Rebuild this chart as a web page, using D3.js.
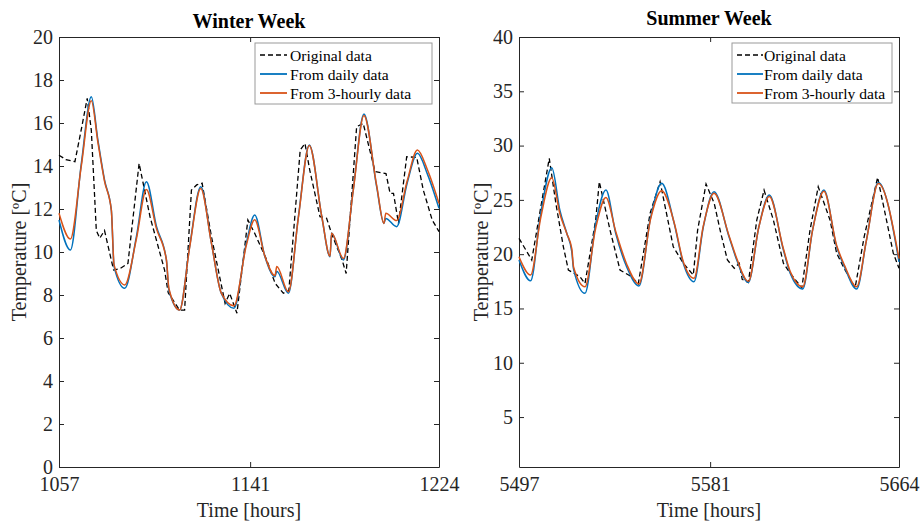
<!DOCTYPE html>
<html><head><meta charset="utf-8">
<script src="https://cdn.jsdelivr.net/npm/d3@7"></script>
<style>body{margin:0;background:#fff}svg{display:block}</style>
</head><body>
<svg id="c" width="922" height="522"></svg>
<script>
// ---------- DATA ----------
const seriesNames = ["Original data", "From daily data", "From 3-hourly data"];
const seriesColors = ["#000000", "#0072BD", "#D95319"];

// Winter week
const winterXTicks = [1057, 1141, 1224];
const winterYTicks = [0, 2, 4, 6, 8, 10, 12, 14, 16, 18, 20];
const winterOrigHours = [1057,1060,1064,1066.8,1069.4,1071.2,1073.4,1074.9,1077,1079.3,1081,1084,1087.3,1092.2,1097,1103.4,1105,1110,1112.2,1115.2,1117.5,1119.9,1124,1130,1132,1135.2,1140,1143,1148.3,1152,1155.6,1158,1163,1165.1,1167.2,1171.7,1174.6,1177,1181.4,1183.2,1187.8,1190.7,1195.9,1200.7,1202.5,1204,1206.2,1209.8,1214.2,1217.1,1221,1224];
const winterOrigTemp  = [14.5,14.3,14.2,15.7,17.15,15.67,11.0,10.64,11.0,9.94,9.16,9.24,9.47,14.12,11.64,9.16,8.1,7.3,7.3,12.88,13.12,13.2,10.71,7.61,8.08,7.15,11.49,10.87,9.63,8.54,8.08,8.2,14.74,15.05,13.81,11.64,11.57,10.8,9.63,9.0,15.83,15.98,13.74,13.65,12.73,12.73,11.33,14.43,14.4,12.88,11.49,10.95];
const winterModelHours = [1057,1062,1066.8,1071.2,1074.1,1077,1080,1081.2,1085.9,1091,1095.4,1099.8,1104.2,1105.3,1110,1114.4,1119.3,1124,1128.3,1133.9,1139.3,1143,1147.5,1151.9,1152.7,1157.8,1162.2,1167,1172.5,1176.1,1176.8,1182,1186.3,1191,1196.6,1199.8,1200.6,1205.4,1210,1214.5,1219,1224];
const winterDailyTemp  = [11.49,10.09,14.1,17.22,15.2,13.35,11.95,9.32,8.31,10.7,13.27,11.2,9.63,8.23,7.3,10.25,13.04,10.4,8.08,7.38,10.4,11.72,9.78,8.85,9.1,8.08,11.64,14.98,11.64,9.78,10.87,9.63,12.88,16.42,13.04,11.33,11.56,11.18,13.2,14.59,13.6,12.03];
const winter3hTemp     = [11.8,10.6,14.0,17.04,15.1,13.3,11.95,9.4,8.47,10.6,12.91,11.1,9.63,8.3,7.3,10.2,12.95,10.4,8.1,7.5,10.3,11.5,9.8,8.9,9.32,8.15,11.6,14.95,11.64,9.8,10.87,9.7,12.85,16.35,13.1,11.33,11.8,11.46,13.3,14.74,13.8,12.26];

// Summer week
const summerXTicks = [5497, 5581, 5664];
const summerYTicks = [5, 10, 15, 20, 25, 30, 35, 40];
const summerOrigHours = [5497,5502.6,5506.3,5510.3,5513.2,5516.5,5518.7,5523.8,5526,5530.7,5532.3,5537,5541.4,5546.5,5549.4,5554.6,5559,5564.8,5569.2,5573.6,5575.5,5579.2,5582.8,5585.7,5588.6,5591.6,5593.8,5595.1,5597.8,5601.5,5604.7,5608.8,5613.2,5616.2,5621.3,5624.9,5628.5,5633.7,5636.6,5639.5,5644.7,5648.7,5654.6,5658.5,5661.5,5664];
const summerOrigTemp  = [21.46,19.46,24.0,28.83,24.68,20.68,18.54,17.92,17.3,23.14,26.67,22.22,18.54,17.92,17.25,23.76,26.67,20.68,19.16,18.08,22.22,26.46,24.68,21.92,19.46,18.7,19.16,17.68,17.4,23.14,25.9,23.14,19.16,18.24,16.9,22.22,26.21,23.14,20.08,18.85,16.9,21.61,27.07,23.14,20.08,18.7];
const summerModelHours = [5497,5502.1,5506.5,5511.4,5515,5518,5520.2,5521,5526,5530.7,5535.2,5539.5,5544.3,5549.7,5554.9,5559.7,5565.2,5569.2,5573.9,5578,5582.7,5589.3,5592.7,5597.8,5602.4,5607,5613.2,5616.2,5621.7,5626,5631,5636.6,5640,5645.4,5649.7,5654.9,5664];
const summerDailyTemp  = [19.46,17.55,23.7,27.96,24.0,21.92,20.23,18.6,16.39,22.8,25.9,21.92,18.84,17.07,23.45,26.52,22.84,19.16,17.46,22.5,25.75,21.61,19.46,17.4,22.5,25.45,20.38,18.24,16.79,22.2,25.9,20.68,18.85,16.79,21.3,26.61,19.3];
const summer3hTemp     = [19.77,18.08,23.3,27.04,23.7,21.9,20.5,18.8,17.0,22.4,25.23,22.1,19.1,17.25,23.3,25.84,22.9,19.3,17.78,22.6,25.6,21.7,19.6,17.5,22.5,25.3,20.5,18.4,17.0,22.2,25.8,20.8,19.0,17.0,21.3,26.5,19.6];

// ---------- DRAW ----------
const svg = d3.select("#c");
const FONT = "'Liberation Serif','Times New Roman',serif";
const AX = "#262626";

function panel(cfg) {
  const {x0, x1, y0, y1, xDom, yDom, xTicks, yTicks, title, titleY, legend} = cfg;
  const x = d3.scaleLinear().domain(xDom).range([x0, x1]);
  const y = d3.scaleLinear().domain(yDom).range([y1, y0]);
  const g = svg.append("g");

  const styleAxis = sel => {
    sel.selectAll("path.domain").attr("stroke", AX).attr("stroke-width", 1);
    sel.selectAll(".tick line").attr("stroke", AX).attr("stroke-width", 1);
    sel.selectAll("text").attr("font-family", FONT).attr("font-size", 20).attr("fill", AX);
  };

  g.append("g").attr("transform", `translate(0,${y1})`)
    .call(d3.axisBottom(x).tickValues(xTicks).tickSizeInner(-5).tickSizeOuter(0).tickPadding(10).tickFormat(d3.format("d")))
    .call(styleAxis);
  g.append("g").attr("transform", `translate(0,${y0})`)
    .call(d3.axisTop(x).tickValues(xTicks).tickSizeInner(-5).tickSizeOuter(0).tickFormat(""))
    .call(styleAxis);
  g.append("g").attr("transform", `translate(${x0},0)`)
    .call(d3.axisLeft(y).tickValues(yTicks).tickSizeInner(-5).tickSizeOuter(0).tickPadding(6).tickFormat(d3.format("d")))
    .call(styleAxis);
  g.append("g").attr("transform", `translate(${x1},0)`)
    .call(d3.axisRight(y).tickValues(yTicks).tickSizeInner(-5).tickSizeOuter(0).tickFormat(""))
    .call(styleAxis);

  const lineLin = d3.line().x(d => x(d[0])).y(d => y(d[1])).curve(d3.curveLinear);
  const lineSm = d3.line().x(d => x(d[0])).y(d => y(d[1])).curve(d3.curveMonotoneX);

  g.append("path").datum(d3.zip(cfg.origH, cfg.origT))
    .attr("d", lineLin).attr("fill", "none").attr("stroke", seriesColors[0])
    .attr("stroke-width", 1.3).attr("stroke-dasharray", "5,3");
  g.append("path").datum(d3.zip(cfg.modH, cfg.dailyT))
    .attr("d", lineSm).attr("fill", "none").attr("stroke", seriesColors[1]).attr("stroke-width", 1.5);
  g.append("path").datum(d3.zip(cfg.modH, cfg.threeT))
    .attr("d", lineSm).attr("fill", "none").attr("stroke", seriesColors[2]).attr("stroke-width", 1.5);

  // title
  g.append("text").attr("x", (x0 + x1) / 2).attr("y", titleY).attr("text-anchor", "middle")
    .attr("font-family", FONT).attr("font-size", 20).attr("font-weight", "bold").attr("fill", "#000").text(title);
  // x label
  g.append("text").attr("x", (x0 + x1) / 2).attr("y", 517).attr("text-anchor", "middle")
    .attr("font-family", FONT).attr("font-size", 20).attr("fill", AX).text("Time [hours]");
  // y label
  g.append("text").attr("transform", `translate(${cfg.ylabX},${(y0 + y1) / 2}) rotate(-90)`)
    .attr("text-anchor", "middle").attr("font-family", FONT).attr("font-size", 20).attr("fill", AX)
    .text("Temperature [ºC]");

  // legend
  const L = legend;
  g.append("rect").attr("x", L.x).attr("y", L.y).attr("width", L.w).attr("height", L.h)
    .attr("fill", "#fff").attr("stroke", "#9a9a9a").attr("stroke-width", 1);
  seriesNames.forEach((name, i) => {
    const cy = L.y + 12 + i * 19;
    g.append("line").attr("x1", L.lx1).attr("x2", L.lx2).attr("y1", cy).attr("y2", cy)
      .attr("stroke", seriesColors[i]).attr("stroke-width", i === 0 ? 1.3 : 1.8)
      .attr("stroke-dasharray", i === 0 ? "5,3" : null);
    g.append("text").attr("x", L.tx).attr("y", cy + 5.5).attr("font-family", FONT)
      .attr("font-size", 15.6).attr("fill", "#000").text(name);
  });
}

panel({x0: 59, x1: 439, y0: 37, y1: 467, xDom: [1057, 1224], yDom: [0, 20],
  xTicks: winterXTicks, yTicks: winterYTicks, title: "Winter Week", titleY: 28, ylabX: 26,
  origH: winterOrigHours, origT: winterOrigTemp, modH: winterModelHours,
  dailyT: winterDailyTemp, threeT: winter3hTemp,
  legend: {x: 255, y: 43, w: 177, h: 61, lx1: 260, lx2: 287, tx: 290}});

panel({x0: 519, x1: 899, y0: 37, y1: 467, xDom: [5497, 5664], yDom: [0.4, 40],
  xTicks: summerXTicks, yTicks: summerYTicks, title: "Summer Week", titleY: 25, ylabX: 488,
  origH: summerOrigHours, origT: summerOrigTemp, modH: summerModelHours,
  dailyT: summerDailyTemp, threeT: summer3hTemp,
  legend: {x: 732, y: 43, w: 160, h: 60, lx1: 737, lx2: 763, tx: 764}});
</script>
</body></html>
